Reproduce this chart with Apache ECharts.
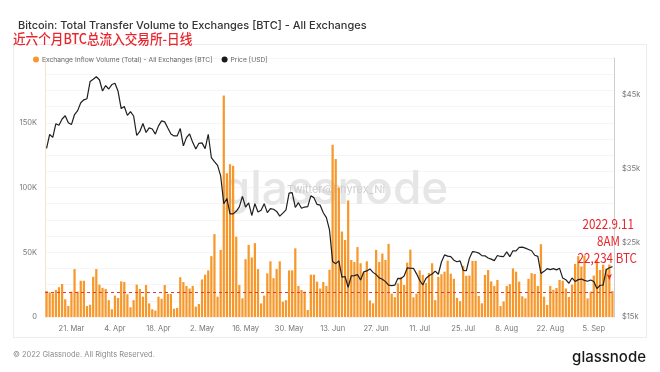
<!DOCTYPE html>
<html>
<head>
<meta charset="utf-8">
<script src="https://cdn.jsdelivr.net/npm/echarts@6/dist/echarts.min.js"></script>
<style>
html,body{margin:0;padding:0;background:#fff;}
#c{width:660px;height:372px;}
</style>
</head>
<body>
<div id="c"></div>
<script>
// ---- data ----
const startDate = '2022-03-13';
const dayCount = 183;
const monthNames = ['Jan','Feb','Mar','Apr','May','Jun','Jul','Aug','Sep','Oct','Nov','Dec'];

// Exchange inflow volume (BTC, thousands)
const inflowK = [
  20.1,19,18.3,20.9,23,25.5,13.7,8.5,19.6,37,19.6,28,28,8.5,9.5,31,37,25,22.5,21.7,
  13,6,16.5,14.7,27.5,27,17.5,7.5,13,25,21.7,15.7,24.7,10.5,6,5,15.7,14,24.7,17.8,
  17.8,6.4,7,30.7,27,24,22,24,8,10,29,32.7,36,47,64,15.7,51.8,171,111,118,
  116.7,62,24.7,14.4,44.6,55.7,46,57,37,10.5,16.5,33.7,43,30,37,43,11.8,13,36,36,
  53,24,20.9,19.6,5.4,32.7,32.7,27.3,22,27,24,36.5,133,122,100,66,59.5,90,44,42.5,
  54,41.5,34.5,43,12.8,10.6,51.8,42.5,49,44,56.5,18,15.3,26,31,24.7,42,52,15.2,18,
  36,32.5,26.3,34,41.5,13,31,33,35,43.5,33.5,29.5,14.8,12.2,39.5,31.8,32,43.3,43.3,16.2,
  10.6,32.5,36.3,27.5,24,28.6,8.5,12,24,25.4,37.5,35,27.3,16,14.4,29.5,33.8,33.2,24,56.2,
  15.7,9.3,24,21,22.5,28.6,28,22,15.5,25,41,47,39,47.5,14.4,19.6,32,44.3,36.3,40.4,
  37.3,40.5,20
];

// BTC price (USD)
const price = [
  37800,39670,39280,41120,40920,41760,42200,41260,41000,42360,42890,43960,44350,44500,46820,47130,47470,47060,45540,
  46280,45810,46410,46580,45500,43170,43440,42250,42760,42160,39530,40070,41150,39940,40550,40410,39720,40830,41500,41370,40530,39740,39470,39470,40460,38120,39240,39740,38600,37710,
  38470,38530,37750,39690,36550,36010,35500,34060,30300,31020,28940,28940,29280,29880,31300,29860,30420,28720,30310,29200,29430,30320,29100,29650,29560,29270,28630,29030,29470,31730,31800,
  29800,30450,29700,29860,29910,31370,31130,30210,30110,29090,28420,26760,22490,22210,22580,20380,20470,19020,20550,20600,20720,19990,21090,21230,21500,21030,20730,20280,20110,19780,
  19300,19250,19300,20230,20190,20550,21640,21590,21580,20830,19960,19330,20200,20570,20820,21200,20780,22430,23390,23230,23160,22680,22460,22580,21310,21250,22950,23840,23780,23640,23290,
  23270,22980,22820,22620,23310,23180,23170,23810,23160,23950,23930,24400,24440,24310,24130,23950,23340,23190,20880,21170,21530,21400,21530,21370,21580,20260,20040,19560,20280,19810,20050,
  20130,19950,19830,20000,19800,18840,19290,19320,21380,21650,21800
];

const referenceLevel = 19000;      // red dashed line
const arrowPoint = [181, 28600];   // red arrow marker
const leftTicks = [0, 50000, 100000, 150000];
const rightTicks = [15000, 25000, 35000, 45000];
const firstLabelIndex = 8;
const labelStep = 14;

// ---- build ----
const dates = [];
{
  const p = startDate.split('-').map(Number);
  const t0 = Date.UTC(p[0], p[1] - 1, p[2]);
  for (let i = 0; i < dayCount; i++) {
    const d = new Date(t0 + i * 86400000);
    dates.push(d.toISOString().slice(0, 10));
  }
}
const inflow = inflowK.map(v => Math.round(v * 1000));

const chart = echarts.init(document.getElementById('c'), null, {renderer: 'canvas'});
const FONT = 'Inter, Roboto, "Noto Sans", sans-serif';
const RED = '#e8262d';

chart.setOption({
  animation: false,
  backgroundColor: '#fff',
  title: {
    text: 'Bitcoin: Total Transfer Volume to Exchanges [BTC] - All Exchanges',
    left: 13, top: 15,
    textStyle: {fontFamily: FONT, fontSize: 11, fontWeight: 500, color: '#333'}
  },
  legend: {
    left: 28, top: 51,
    icon: 'circle', itemWidth: 6, itemHeight: 6, itemGap: 9,
    textStyle: {fontFamily: FONT, fontSize: 6.7, color: '#666', padding: [0, 0, 0, -2]},
    data: ['Exchange Inflow Volume (Total) - All Exchanges [BTC]', 'Price [USD]']
  },
  grid: {left: 45, right: 46, top: 58, bottom: 55},
  xAxis: {
    type: 'category',
    data: dates,
    boundaryGap: true,
    axisLine: {show: false},
    axisTick: {show: false},
    axisLabel: {
      interval: (i) => i >= firstLabelIndex && (i - firstLabelIndex) % labelStep === 0,
      formatter: (v) => {
        const p = v.split('-');
        return parseInt(p[2], 10) + '. ' + monthNames[parseInt(p[1], 10) - 1];
      },
      fontFamily: FONT, fontSize: 7.5, color: '#777', margin: 8
    },
    splitLine: {show: false}
  },
  yAxis: [
    {
      type: 'value', min: 0, max: 200000, interval: 12500, position: 'left',
      axisLine: {show: true, lineStyle: {color: '#f8e2cc', width: 1}},
      axisTick: {show: false},
      axisLabel: {
        fontFamily: FONT, fontSize: 7.5, color: '#777', margin: 8,
        formatter: (v) => leftTicks.indexOf(v) >= 0 ? (v === 0 ? '0' : (v / 1000) + 'K') : ''
      },
      splitLine: {show: true, lineStyle: {color: '#f5f5f5', width: 1}}
    },
    {
      type: 'value', min: 15000, max: 50000, interval: 10000, position: 'right',
      axisLine: {show: true, lineStyle: {color: '#cfcfcf', width: 1}},
      axisTick: {show: false},
      axisLabel: {
        fontFamily: FONT, fontSize: 7.5, color: '#777', margin: 8, showMaxLabel: false,
        formatter: (v) => rightTicks.indexOf(v) >= 0 ? '$' + (v / 1000) + 'k' : ''
      },
      splitLine: {show: false}
    }
  ],
  series: [
    {
      name: 'Exchange Inflow Volume (Total) - All Exchanges [BTC]',
      type: 'bar',
      yAxisIndex: 0,
      data: inflow,
      barCategoryGap: '28%',
      itemStyle: {color: '#f6982b'},
      z: 2,
      markLine: {
        silent: true, symbol: 'none',
        lineStyle: {color: '#e53935', type: [3, 3], width: 1},
        label: {show: false},
        data: [{yAxis: referenceLevel}]
      },
      markPoint: {
        silent: true,
        symbol: 'arrow', symbolSize: [4, 6], symbolRotate: 180,
        itemStyle: {color: RED},
        label: {show: false},
        data: [{coord: arrowPoint}]
      }
    },
    {
      name: 'Price [USD]',
      type: 'line',
      yAxisIndex: 1,
      data: price,
      symbol: 'none',
      itemStyle: {color: '#1a1a1a'},
      lineStyle: {color: '#1f1f1f', width: 1.2},
      z: 5
    }
  ],
  graphic: [
    {type: 'rect', z: -10, silent: true,
     shape: {x: 13.5, y: 44.5, width: 633, height: 293},
     style: {fill: 'none', stroke: '#ececec', lineWidth: 1}},
    {type: 'text', z: 1, silent: true, x: 335, y: 190,
     style: {text: 'glassnode', fill: '#e6e6e6', align: 'center', verticalAlign: 'middle',
             font: '500 46px Inter, Roboto, sans-serif'}},
    {type: 'text', z: 1, silent: true, x: 287, y: 190,
     style: {text: 'Twitter@Phyrex_Ni', fill: '#cfcfcf', align: 'left', verticalAlign: 'middle',
             font: '11px Inter, Roboto, sans-serif'}},
    {type: 'text', z: 20, silent: true, x: 13, y: 39, scaleX: 0.9,
     style: {text: '近六个月BTC总流入交易所-日线', fill: RED, align: 'left', verticalAlign: 'middle',
             font: '500 14px "Noto Sans CJK SC", sans-serif'}},
    {type: 'text', z: 20, silent: true, x: 634, y: 224, scaleX: 0.86,
     style: {text: '2022.9.11', fill: RED, align: 'right', verticalAlign: 'middle',
             font: '13.5px "Noto Sans CJK SC", sans-serif'}},
    {type: 'text', z: 20, silent: true, x: 620, y: 241, scaleX: 0.86,
     style: {text: '8AM', fill: RED, align: 'right', verticalAlign: 'middle',
             font: '13.5px "Noto Sans CJK SC", sans-serif'}},
    {type: 'text', z: 20, silent: true, x: 637, y: 258, scaleX: 0.86,
     style: {text: '22,234 BTC', fill: RED, align: 'right', verticalAlign: 'middle',
             font: '13.5px "Noto Sans CJK SC", sans-serif'}},
    {type: 'text', z: 20, silent: true, x: 13, y: 355,
     style: {text: '© 2022 Glassnode. All Rights Reserved.', fill: '#8a8a8a', align: 'left', verticalAlign: 'middle',
             font: '7.5px Inter, Roboto, sans-serif'}},
    {type: 'text', z: 20, silent: true, x: 646, y: 357,
     style: {text: 'glassnode', fill: '#1a1a1a', align: 'right', verticalAlign: 'middle',
             font: '500 15px Inter, Roboto, sans-serif'}}
  ]
});
</script>
</body>
</html>
